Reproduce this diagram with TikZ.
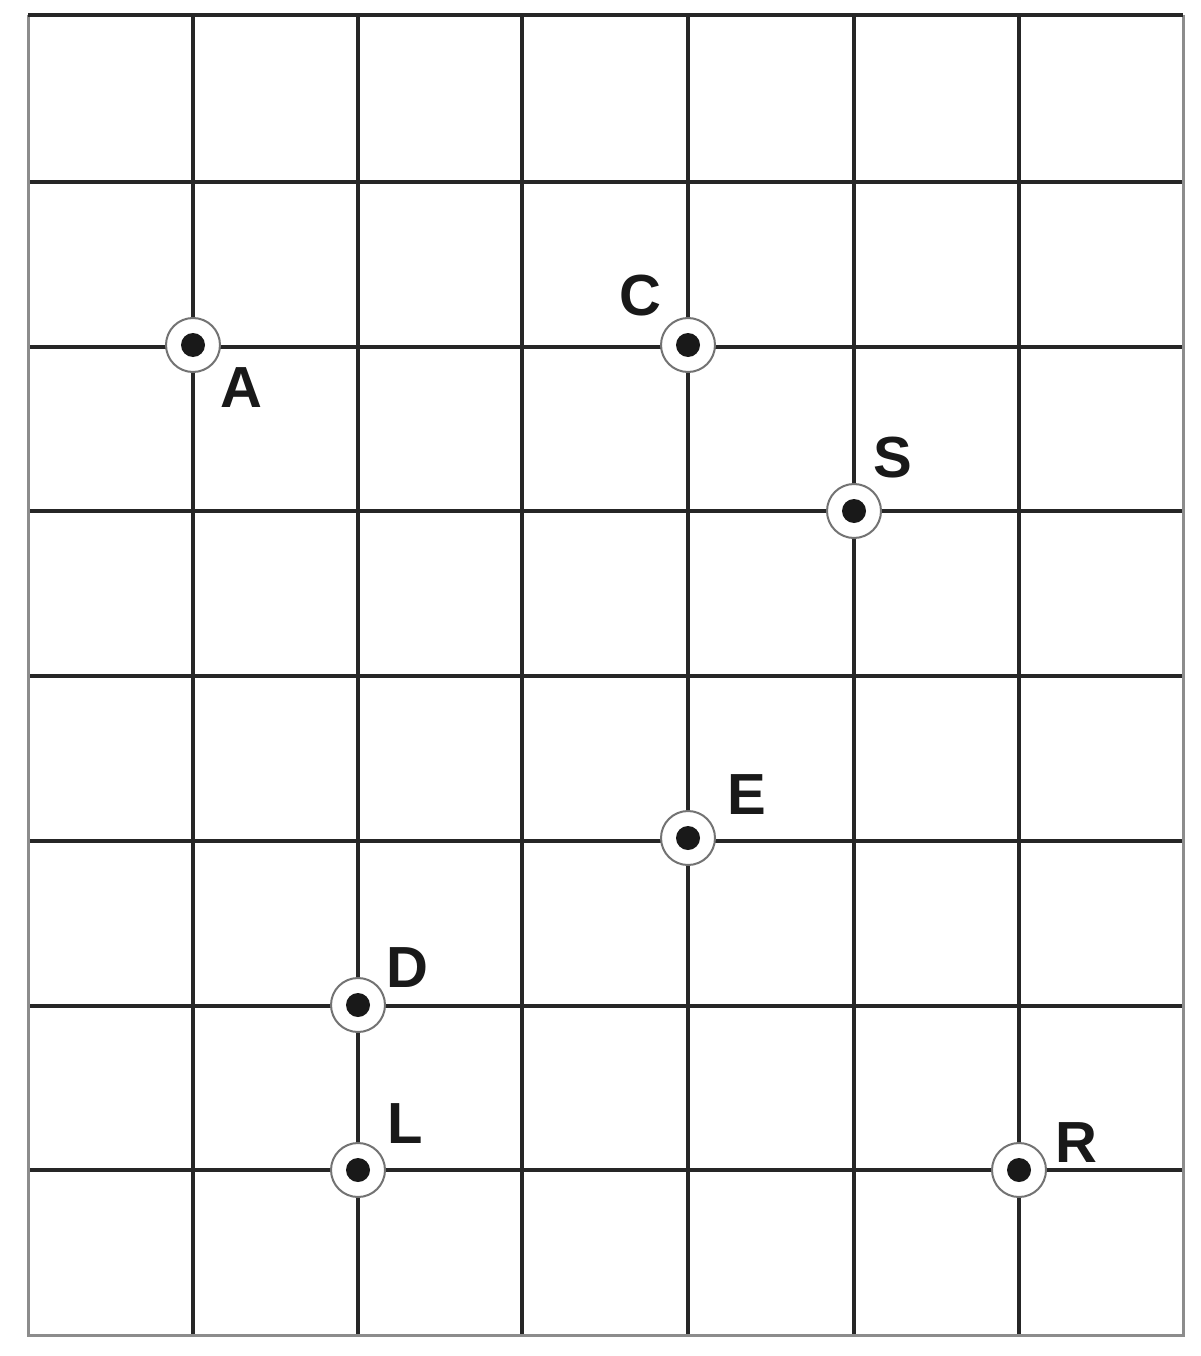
\documentclass[tikz,border=0pt]{standalone}
\usepackage{fontspec}
\setmainfont{Liberation Sans}
\begin{document}
\begin{tikzpicture}[x=1pt,y=-1pt,
  gridline/.style={line width=3.5pt,draw=black!85},
  borderline/.style={line width=3pt,draw=black!45},
  marker/.style={circle,minimum size=54pt,inner sep=0pt,draw=black!55,line width=2pt,fill=white},
  dotmark/.style={circle,minimum size=24pt,inner sep=0pt,fill=black!90},
  lbl/.style={font=\fontsize{58}{58}\selectfont\bfseries,inner sep=0pt,text=black!90}]
\useasboundingbox (0,0) rectangle (1200,1356);
\fill[white] (0,0) rectangle (1200,1356);
% interior vertical lines
\foreach \x in {193,358,522,688,854,1019} \draw[gridline] (\x,15) -- (\x,1335);
% interior horizontal lines
\foreach \y in {182,347,511,676,841,1006,1170} \draw[gridline] (28,\y) -- (1183,\y);
% border
\draw[borderline] (28,15) -- (28,1335) -- (1183,1335) -- (1183,15);
\draw[gridline] (28,15) -- (1183,15);
% markers
\foreach \n/\x/\y in {A/193/345,C/688/345,S/854/511,E/688/838,D/358/1005,L/358/1170,R/1019/1170}{
  \node[marker] (m\n) at (\x,\y) {};
  \node[dotmark] (d\n) at (\x,\y) {};
}
\node[lbl] (lA) at (241,388) {A};
\node[lbl] (lC) at (640,296) {C};
\node[lbl] (lS) at (893,458) {S};
\node[lbl] (lE) at (747,795) {E};
\node[lbl] (lD) at (407,968) {D};
\node[lbl] (lL) at (405,1124) {L};
\node[lbl] (lR) at (1076,1143) {R};
\end{tikzpicture}
\end{document}
